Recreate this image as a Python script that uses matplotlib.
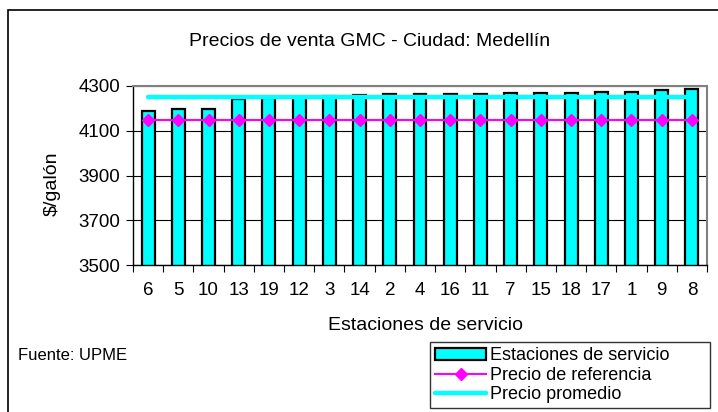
import matplotlib
matplotlib.use("Agg")
import matplotlib.pyplot as plt
from matplotlib.patches import Rectangle

plt.rcParams['font.family'] = ['Liberation Sans', 'DejaVu Sans']

estaciones = ["6", "5", "10", "13", "19", "12", "3", "14", "2", "4",
              "16", "11", "7", "15", "18", "17", "1", "9", "8"]
precios = [4188, 4197, 4199, 4240, 4248, 4252, 4254, 4262, 4263, 4265,
           4266, 4266, 4268, 4268, 4270, 4272, 4275, 4280, 4288]
precio_ref = [4150] * len(estaciones)
precio_prom = [4252] * len(estaciones)
yticks = [3500, 3700, 3900, 4100, 4300]

W, H = 718, 412
fig = plt.figure(figsize=(W / 100, H / 100), dpi=100)

# outer chart frame (cut off at right/bottom like the reference)
fig.patches.append(Rectangle((8 / W, -0.1), 1.2, 1 - 10 / H + 0.1,
                             transform=fig.transFigure, fill=False,
                             edgecolor='black', linewidth=1.2))

ax = fig.add_axes([133 / W, 1 - 265 / H, (707 - 133) / W, (265 - 86) / H])
x = list(range(len(estaciones)))

bars = ax.bar(x, precios, width=0.43, color='#00FFFF',
              edgecolor='black', linewidth=1.6, zorder=2)
ref_line, = ax.plot(x, precio_ref, color='#FF00FF', linewidth=1.5, marker='D',
                    markersize=6.5, zorder=4)
prom_line, = ax.plot(x, precio_prom, color='#00FFFF', linewidth=3.2,
                     solid_capstyle='round', zorder=3)

ax.set_ylim(3500, 4300)
ax.set_xlim(-0.5, len(estaciones) - 0.5)
ax.set_yticks(yticks)
ax.set_yticklabels([str(v) for v in yticks], fontsize=13.5)
ax.yaxis.grid(True, color='black', linewidth=0.8)
ax.set_axisbelow(True)

ax.set_xticks(x)
ax.set_xticklabels(estaciones, fontsize=13.5)
ax.set_xticks([i - 0.5 for i in range(len(estaciones) + 1)], minor=True)
ax.tick_params(axis='x', which='major', length=0, pad=12)
ax.tick_params(axis='x', which='minor', length=5, direction='out', width=0.8)
ax.tick_params(axis='y', length=5, direction='out', width=0.8, pad=4)

for s in ['top', 'right']:
    ax.spines[s].set_color('#808080')
    ax.spines[s].set_linewidth(1.5)
for s in ['left', 'bottom']:
    ax.spines[s].set_color('black')
    ax.spines[s].set_linewidth(1.0)

fig.text(370 / W, 1 - 41 / H, "Precios de venta GMC - Ciudad: Medellín",
         fontsize=14, ha='center', va='center')
fig.text(426 / W, 1 - 325 / H, "Estaciones de servicio",
         fontsize=14, ha='center', va='center')
fig.text(52 / W, 1 - 184 / H, "$/galón", fontsize=14, rotation=90,
         ha='center', va='center')
fig.text(18 / W, 1 - 355 / H, "Fuente: UPME", fontsize=12,
         ha='left', va='center')

leg = fig.legend([bars, ref_line, prom_line],
                 ['Estaciones de servicio', 'Precio de referencia', 'Precio promedio'],
                 loc='upper left',
                 bbox_to_anchor=(430 / W, 1 - 407 / H, 280 / W, 65 / H),
                 mode='expand', frameon=True, fancybox=False, fontsize=13,
                 handlelength=2.8, handleheight=0.6, handletextpad=0.25,
                 labelspacing=0.12, borderpad=0.3, borderaxespad=0)
leg.get_frame().set_edgecolor('black')
leg.get_frame().set_linewidth(1.0)

fig.savefig("out.png", dpi=100)
